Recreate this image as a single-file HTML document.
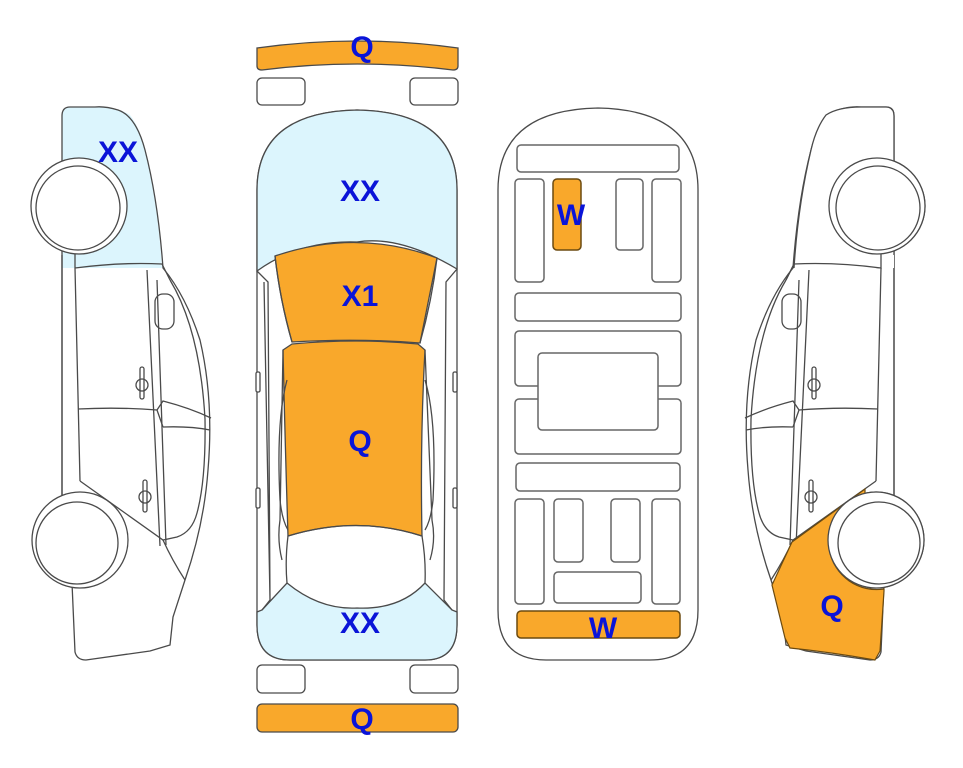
<!DOCTYPE html>
<html><head><meta charset="utf-8"><style>
html,body{margin:0;padding:0;background:#fff;}
svg{display:block}
text{font-family:"Liberation Sans",sans-serif;font-weight:bold;fill:#0a14d8;font-size:30px;text-anchor:middle}
</style></head><body>
<svg width="963" height="768" viewBox="0 0 963 768" xmlns="http://www.w3.org/2000/svg">
<defs>
<g id="side" fill="none" stroke="#4a4a4a" stroke-width="1.3">
  <path d="M62,116 Q62,107 70,107 L95,107 Q118,107 130,115 Q140,128 145,150 Q158,205 162,268 L75,268 L62,268 Z" fill="#dcf5fd" stroke="none"/>
  <path d="M72,583 L75,652 Q77,660 86,660 L150,651 L170,645 L173,617 L185,580 Q204,525 208,470 Q214,400 200,340 Q186,296 163,268 Q158,200 145,150 Q136,116 118,110 Q105,106 95,107 L70,107 Q62,107 62,116 L62,506" fill="#fff" fill-opacity="0"/>
  <path d="M62,255 L62,506 M75,252 L75,268 L80,481 M75,268 Q120,262 162,264 L170,280"/>
  <path d="M147,270 L160,546 M157,280 L166,545"/>
  <path d="M170,280 Q200,330 205,419 Q206,480 197,513 Q192,532 177,537 L163,540 L80,481"/>
  <path d="M163,540 Q172,560 185,580"/>
  <rect x="155" y="294" width="19" height="35" rx="8"/>
  <path d="M78,409 Q120,407 157,410 M157,410 L163,401 Q190,408 211,418 M163,427 Q190,426 210,430 M157,410 L163,427"/>
  <rect x="140" y="367" width="4" height="32" rx="2"/>
  <circle cx="142" cy="385" r="6"/>
  <rect x="143" y="480" width="4" height="32" rx="2"/>
  <circle cx="145" cy="497" r="6"/>
  <path d="M72,583 L72,580"/>
  <circle cx="79" cy="206" r="48" fill="#fff"/>
  <circle cx="78" cy="208" r="42" fill="#fff"/>
  <circle cx="80" cy="540" r="48" fill="#fff"/>
  <circle cx="77" cy="543" r="41" fill="#fff"/>
</g>
</defs>

<!-- left side -->
<use href="#side"/>
<text x="118" y="162">XX</text>

<!-- right side mirrored -->
<g transform="translate(956,0) scale(-1,1)">
  <g fill="none" stroke="#4a4a4a" stroke-width="1.3">
  <path d="M62,116 Q62,107 70,107 L95,107 Q118,107 130,115 Q140,128 145,150 Q158,205 162,268 L75,268 L62,268 Z" fill="#fff" stroke="none"/>
  </g>
  <use href="#side"/>
</g>
<!-- cover blue on right car -->
<path d="M894,116 Q894,107 886,107 L861,107 Q838,107 826,115 Q816,128 811,150 Q798,205 794,268 L881,268 L894,268 Z" fill="#fff"/>
<path d="M894,255 L894,116 Q894,107 886,107 L861,107 Q838,107 826,115 Q816,128 811,150 Q798,205 794,268" fill="none" stroke="#4a4a4a" stroke-width="1.3"/>
<path d="M881,252 L881,268 Q836,262 794,264 L786,280" fill="none" stroke="#4a4a4a" stroke-width="1.3"/>
<circle cx="877" cy="206" r="48" fill="#fff" stroke="#4a4a4a" stroke-width="1.3"/>
<circle cx="878" cy="208" r="42" fill="#fff" stroke="#4a4a4a" stroke-width="1.3"/>
<!-- right orange Q -->
<path d="M865,489 L865,495 A48,48 0 0 0 884,589 L884,591 L880,651 L875,660 Q830,652 790,648 L785,638 L772,585 L792,542 Z" fill="#f9a82b" stroke="#6b4a10" stroke-width="1.2"/>
<circle cx="876" cy="540" r="48" fill="#fff" stroke="#4a4a4a" stroke-width="1.3"/>
<circle cx="879" cy="543" r="41" fill="#fff" stroke="#4a4a4a" stroke-width="1.3"/>
<text x="832" y="616">Q</text>

<!-- top view -->
<g stroke="#4a4a4a" stroke-width="1.3">
  <path d="M257,48 Q357,34 458,48 L458,66 Q458,70 453,70 Q357,58 262,70 Q257,70 257,66 Z" fill="#f9a82b"/>
  <rect x="257" y="78" width="48" height="27" rx="5" fill="#fff"/>
  <rect x="410" y="78" width="48" height="27" rx="5" fill="#fff"/>
  <rect x="257" y="665" width="48" height="28" rx="5" fill="#fff"/>
  <rect x="410" y="665" width="48" height="28" rx="5" fill="#fff"/>
  <rect x="257" y="704" width="201" height="28" rx="5" fill="#f9a82b"/>
  <!-- body -->
  <path d="M257,190 Q257,112 357,110 Q457,112 457,190 L457,625 Q457,660 425,660 L290,660 Q257,660 257,625 Z" fill="#fff"/>
  <path d="M257,190 Q257,112 357,110 Q457,112 457,190 L457,269 Q400,235 357,242 Q300,240 257,271 Z" fill="#dcf5fd"/>
  <path d="M262,610 L287,583 Q320,610 357,608 Q400,610 425,583 L452,610 L457,612 L457,625 Q457,660 425,660 L290,660 Q257,660 257,625 L257,612 Z" fill="#dcf5fd"/>
  <path d="M275,256 Q357,228 437,258 L420,343 Q357,338 292,342 Q280,300 275,256 Z" fill="#f9a82b"/>
  <path d="M283,350 L292,344 Q357,338 418,344 L425,350 Q420,440 422,536 Q357,515 288,536 Q285,440 283,350 Z" fill="#f9a82b"/>
  <path d="M287,583 Q285,560 288,536 Q357,515 422,536 Q426,560 425,583" fill="none"/>
  <g fill="none">
    <path d="M257,271 L268,282 L270,600 L262,610 M264,282 Q266,400 270,600"/>
    <path d="M275,256 Q280,300 292,342 M283,350 L280,520 Q277,540 282,560"/>
    <path d="M457,269 L446,282 L444,600 L452,610"/>
    <path d="M437,258 Q432,300 420,343 M425,350 L432,520 Q436,540 430,560"/>
    <path d="M287,380 Q276,420 280,500 Q282,520 288,530 M425,380 Q437,420 433,500 Q431,520 425,530"/>
  </g>
  <rect x="256" y="372" width="4" height="20" rx="1.5" fill="#fff"/>
  <rect x="256" y="488" width="4" height="20" rx="1.5" fill="#fff"/>
  <rect x="453" y="372" width="4" height="20" rx="1.5" fill="#fff"/>
  <rect x="453" y="488" width="4" height="20" rx="1.5" fill="#fff"/>
</g>
<text x="362" y="57">Q</text>
<text x="360" y="201">XX</text>
<text x="360" y="306">X1</text>
<text x="360" y="451">Q</text>
<text x="360" y="633">XX</text>
<text x="362" y="729">Q</text>

<!-- underside -->
<g stroke="#4a4a4a" stroke-width="1.3" fill="#fff">
  <path d="M498,190 Q498,110 598,108 Q698,110 698,190 L698,610 Q698,660 650,660 L546,660 Q498,660 498,610 Z"/>
  <g stroke="#666" stroke-width="1.5">
  <rect x="517" y="145" width="162" height="27" rx="4"/>
  <rect x="515" y="179" width="29" height="103" rx="4"/>
  <rect x="553" y="179" width="28" height="71" rx="4" fill="#f9a82b" stroke="#6b4a10"/>
  <rect x="616" y="179" width="27" height="71" rx="4"/>
  <rect x="652" y="179" width="29" height="103" rx="4"/>
  <rect x="515" y="293" width="166" height="28" rx="4"/>
  <rect x="515" y="331" width="166" height="55" rx="4"/>
  <rect x="515" y="399" width="166" height="55" rx="4"/>
  <rect x="538" y="353" width="120" height="77" rx="4"/>
  <rect x="516" y="463" width="164" height="28" rx="4"/>
  <rect x="515" y="499" width="29" height="105" rx="4"/>
  <rect x="554" y="499" width="29" height="63" rx="4"/>
  <rect x="611" y="499" width="29" height="63" rx="4"/>
  <rect x="652" y="499" width="28" height="105" rx="4"/>
  <rect x="554" y="572" width="87" height="31" rx="4"/>
  <rect x="517" y="611" width="163" height="27" rx="4" fill="#f9a82b" stroke="#6b4a10"/>
  </g>
</g>
<text x="571" y="225">W</text>
<text x="603" y="638">W</text>
</svg>
</body></html>
